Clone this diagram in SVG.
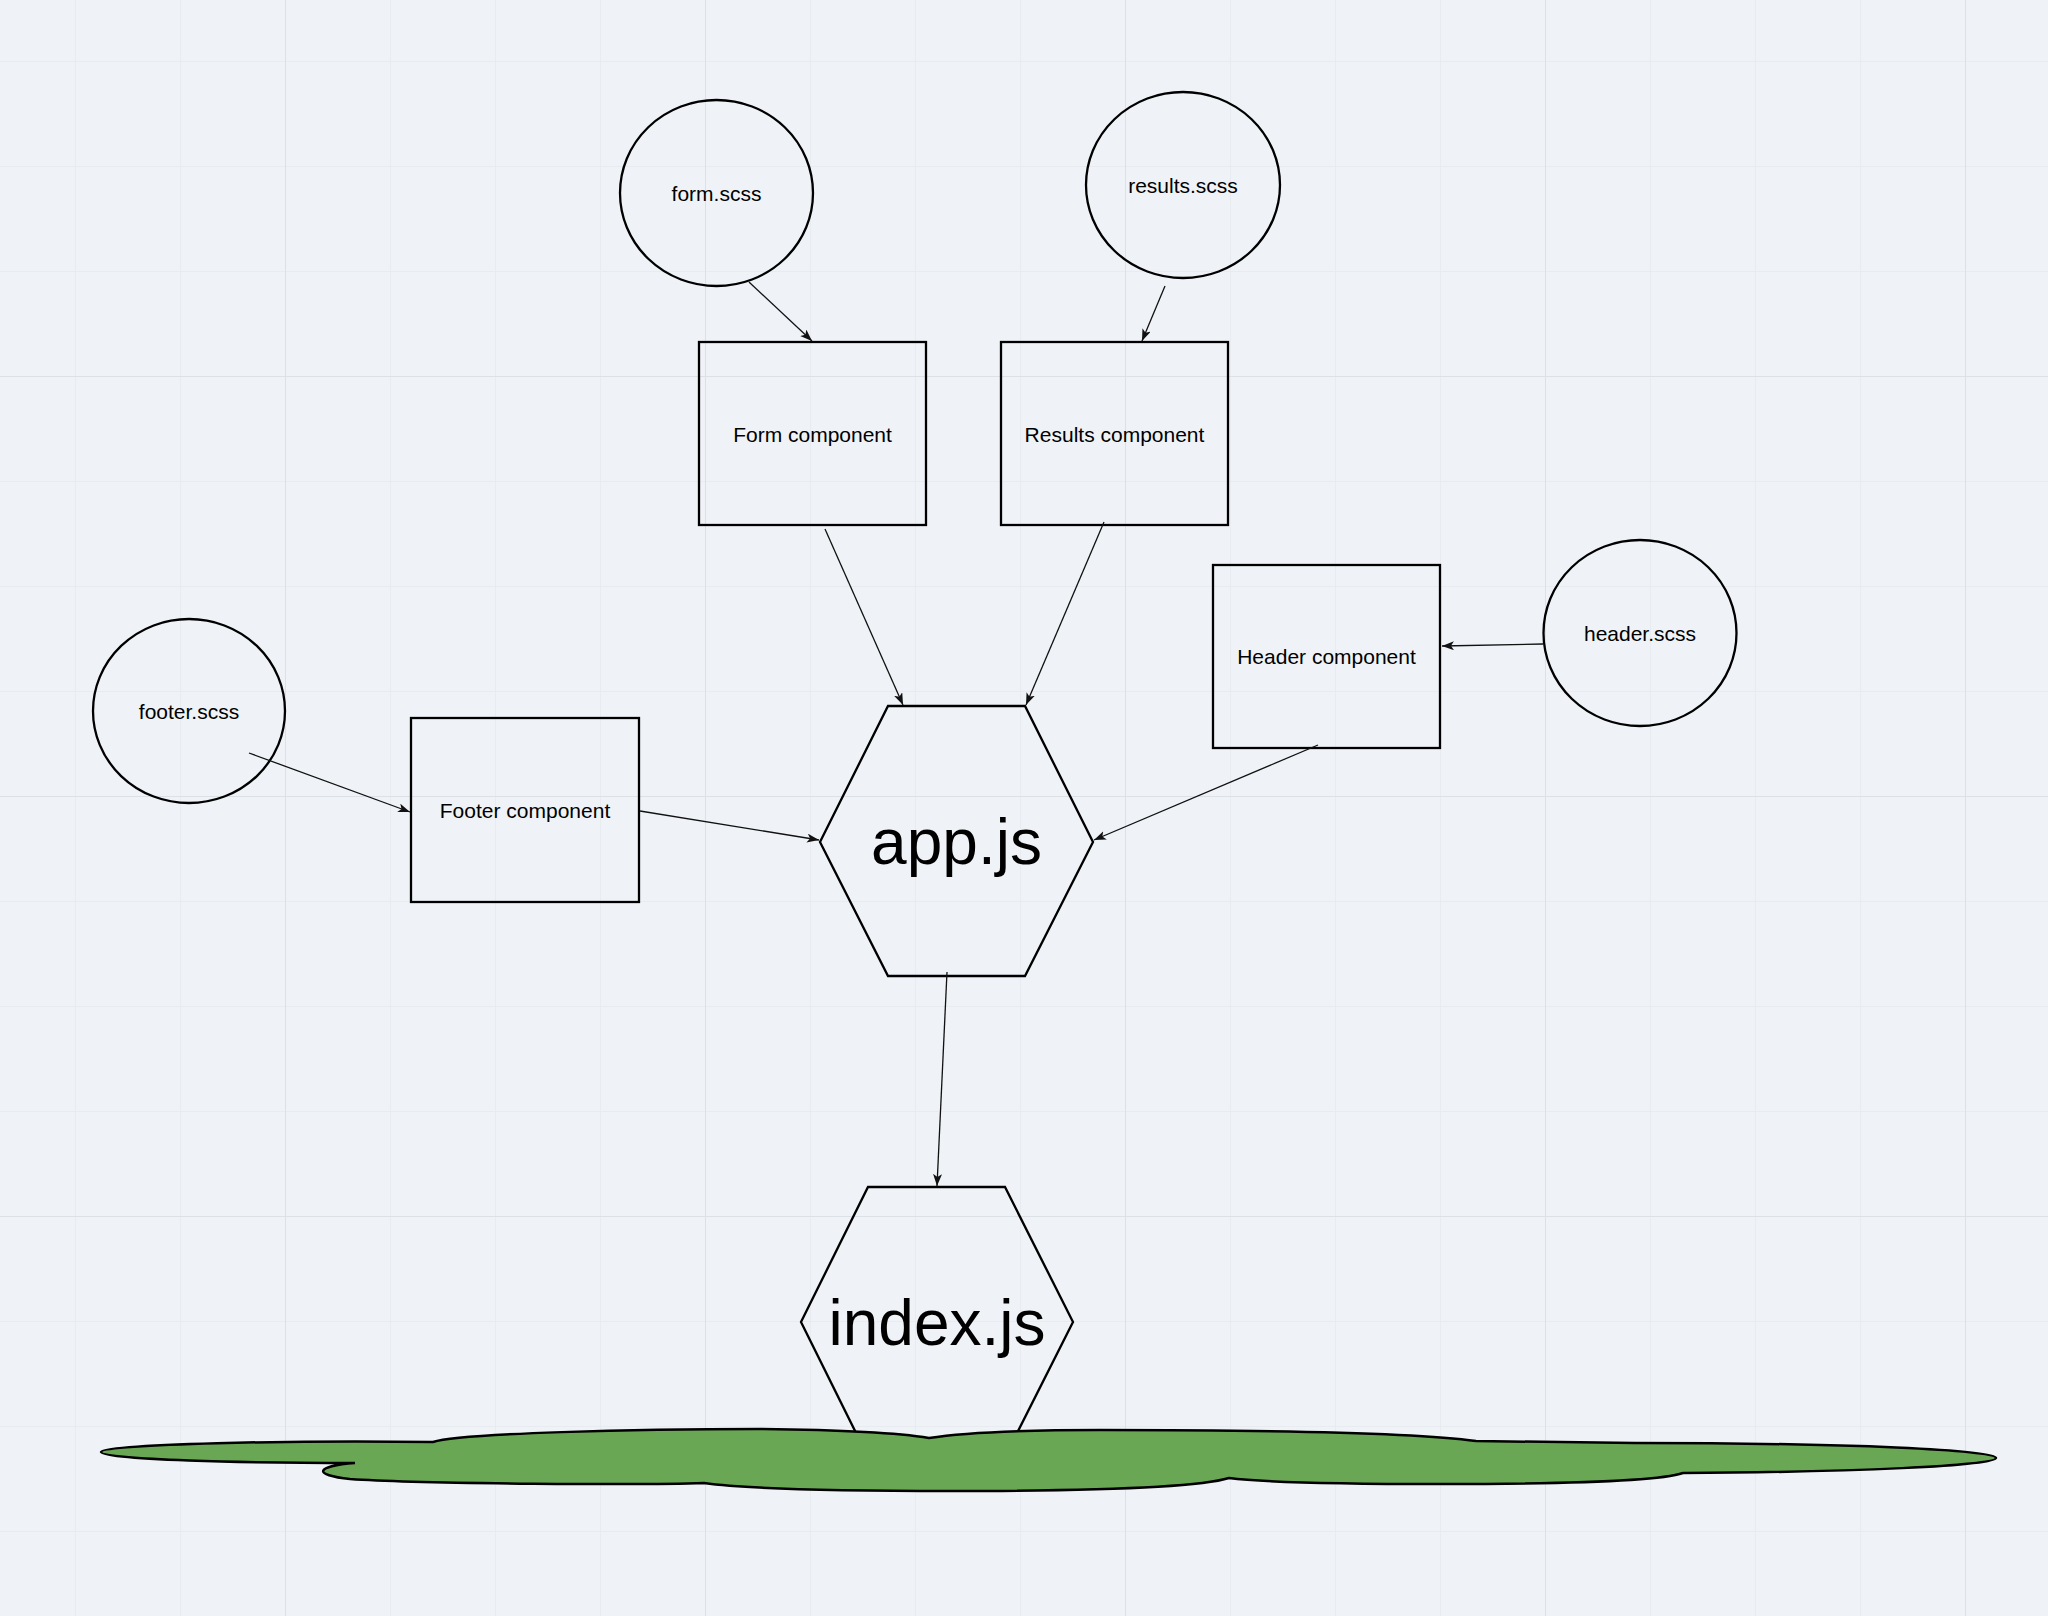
<svg xmlns="http://www.w3.org/2000/svg" width="2048" height="1616" viewBox="0 0 2048 1616">
  <defs>
    <style>
      .node { fill: none; stroke: #000; stroke-width: 2.3; }
      .lbl { font-family: "Liberation Sans", Arial, sans-serif; font-size: 21px; fill: #000; text-anchor: middle; dominant-baseline: central; }
      .big { font-family: "Liberation Sans", Arial, sans-serif; font-size: 64px; fill: #000; text-anchor: middle; }
      .edge { stroke: #111; stroke-width: 1.3; fill: none; marker-end: url(#arrow); }
    </style>
    <marker id="arrow" markerUnits="userSpaceOnUse" markerWidth="13" markerHeight="10" refX="12" refY="4.5" orient="auto">
      <path d="M0,0 L12,4.5 L0,9 L3,4.5 Z" fill="#111"/>
    </marker>
    <pattern id="gridMinor" patternUnits="userSpaceOnUse" x="75" y="61" width="105" height="105">
      <path d="M0,0 H105 M0,0 V105" stroke="#e6eaf0" stroke-width="1.6" fill="none"/>
    </pattern>
    <pattern id="gridMajor" patternUnits="userSpaceOnUse" x="285" y="376" width="420" height="420">
      <path d="M0,0 H420 M0,0 V420" stroke="#dce1e8" stroke-width="2" fill="none"/>
    </pattern>
  </defs>

  <!-- canvas background with grid -->
  <rect width="2048" height="1616" fill="#eff3f7"/>
  <rect width="2048" height="1616" fill="url(#gridMinor)"/>
  <rect width="2048" height="1616" fill="url(#gridMajor)"/>

  <!-- style sheets -->
  <g id="form-scss">
    <ellipse class="node" cx="716.5" cy="193" rx="96.5" ry="93"/>
    <text class="lbl" x="716.5" y="193">form.scss</text>
  </g>
  <g id="results-scss">
    <ellipse class="node" cx="1183" cy="185" rx="97" ry="93"/>
    <text class="lbl" x="1183" y="185">results.scss</text>
  </g>
  <g id="header-scss">
    <ellipse class="node" cx="1640" cy="633" rx="96.5" ry="93"/>
    <text class="lbl" x="1640" y="633">header.scss</text>
  </g>
  <g id="footer-scss">
    <ellipse class="node" cx="189" cy="711" rx="96" ry="92"/>
    <text class="lbl" x="189" y="711">footer.scss</text>
  </g>

  <!-- components -->
  <g id="form-component">
    <rect class="node" x="699" y="342" width="227" height="183"/>
    <text class="lbl" x="812.5" y="434">Form component</text>
  </g>
  <g id="results-component">
    <rect class="node" x="1001" y="342" width="227" height="183"/>
    <text class="lbl" x="1114.5" y="434">Results component</text>
  </g>
  <g id="header-component">
    <rect class="node" x="1213" y="565" width="227" height="183"/>
    <text class="lbl" x="1326.5" y="656">Header component</text>
  </g>
  <g id="footer-component">
    <rect class="node" x="411" y="718" width="228" height="184"/>
    <text class="lbl" x="525" y="810">Footer component</text>
  </g>

  <!-- entry files -->
  <g id="app-js">
    <polygon class="node" points="888,706 1025,706 1093,842 1025,976 888,976 820,842"/>
    <text class="big" x="956.5" y="864">app.js</text>
  </g>
  <g id="index-js">
    <polygon class="node" points="868,1187 1005,1187 1073,1322 1005,1457 868,1457 801,1322"/>
    <text class="big" x="937" y="1345">index.js</text>
  </g>

  <!-- green ground cloud -->
  <g id="cloud">
    <path d="M101,1452
             C101,1444 300,1440 433,1442
             C460,1433 640,1429 760,1429
             C850,1430 905,1434 929,1438
             C960,1433 1010,1430 1100,1430
             C1300,1430 1420,1433 1476,1441
             L1635,1443
             C1850,1443 1996,1450 1996,1458
             C1996,1466 1850,1472 1683,1473
             C1660,1481 1560,1484 1440,1484
             C1330,1484 1260,1482 1229,1478
             C1200,1487 1100,1491 950,1491
             C800,1491 740,1488 704,1483
             C650,1485 420,1484 350,1479
             C312,1475 315,1466 355,1463
             C250,1463 101,1460 101,1452 Z"
          fill="#6aa755" stroke="#000" stroke-width="2.5" stroke-linejoin="miter"/>
  </g>

  <!-- dependency arrows -->
  <g id="connectors">
    <line class="edge" x1="749" y1="282" x2="812" y2="341"/>
    <line class="edge" x1="1165" y1="286" x2="1142" y2="341"/>
    <line class="edge" x1="825" y1="529" x2="903" y2="705"/>
    <line class="edge" x1="1104" y1="522" x2="1026" y2="705"/>
    <line class="edge" x1="249" y1="753" x2="410" y2="812"/>
    <line class="edge" x1="640" y1="811" x2="819" y2="840"/>
    <line class="edge" x1="1543" y1="644" x2="1442" y2="646"/>
    <line class="edge" x1="1318" y1="745" x2="1094" y2="840"/>
    <line class="edge" x1="947" y1="972" x2="937" y2="1186"/>
  </g>
</svg>
